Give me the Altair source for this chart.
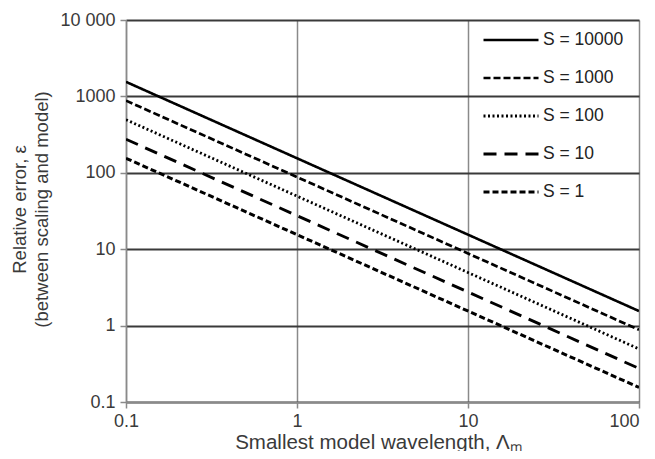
import altair as alt
import pandas as pd

# Smallest model wavelength (x) at the two ends of each straight log-log line
wavelength = [0.1, 100]

series_names = ["S = 10000", "S = 1000", "S = 100", "S = 10", "S = 1"]
err_s10000 = [1550, 1.55]
err_s1000 = [880, 0.88]
err_s100 = [495, 0.495]
err_s10 = [275, 0.275]
err_s1 = [155, 0.155]

x_ticks = [0.1, 1, 10, 100]
y_ticks = [0.1, 1, 10, 100, 1000, 10000]

rows = []
for name, vals in zip(series_names, [err_s10000, err_s1000, err_s100, err_s10, err_s1]):
    for x, y in zip(wavelength, vals):
        rows.append({"x": x, "y": y, "series": name})
df = pd.DataFrame(rows)

dashes = [[1, 0], [7, 3], [2, 2.5], [13, 8], [6, 3]]
widths = [2.6, 3, 3, 3, 3]

font = "Liberation Sans"
txt = "#3a3a3a"

chart = alt.Chart(df).mark_line(color="black", clip=True).encode(
    x=alt.X("x:Q",
            scale=alt.Scale(type="log", domain=[0.1, 100], nice=False),
            axis=alt.Axis(values=x_ticks, format="~g", grid=True,
                          gridColor="#8a8a8a", gridWidth=1.5,
                          domainColor="#8a8a8a", domainWidth=1.5,
                          tickColor="#8a8a8a", tickWidth=1.5, tickSize=6,
                          labelPadding=4, labelFontSize=18, labelColor=txt,
                          labelFont=font, labelFlush=False,
                          labelAlign=alt.condition("datum.value == 100",
                                                   alt.value("right"),
                                                   alt.value("center")),
                          title="Smallest model wavelength, Λₘ",
                          titleFont=font, titleFontSize=20.5, titleFontWeight="normal",
                          titleColor=txt, titleX=252, titleY=30,
                          titleBaseline="top")),
    y=alt.Y("y:Q",
            scale=alt.Scale(type="log", domain=[0.1, 10000], nice=False),
            axis=alt.Axis(values=y_ticks,
                          labelExpr="datum.value == 10000 ? '10 000' : format(datum.value, '~g')",
                          grid=True, gridColor="#3a3a3a", gridWidth=2,
                          domainColor="#8a8a8a", domainWidth=1.5,
                          tickColor="#8a8a8a", tickWidth=1.5, tickSize=6,
                          labelPadding=5, labelFontSize=18, labelColor=txt,
                          labelFont=font,
                          title=["Relative error, ε", "(between scaling and model)"],
                          titleFont=font, titleFontSize=18.5, titleFontWeight="normal",
                          titleColor=txt, titleAngle=-90,
                          titleX=-116, titleY=189, titleBaseline="top",
                          titleAlign="center", titleLineHeight=22)),
    strokeDash=alt.StrokeDash("series:N",
                              scale=alt.Scale(domain=series_names, range=dashes),
                              legend=alt.Legend(title=None, orient="none",
                                                legendX=356, legendY=-9,
                                                symbolType="stroke",
                                                symbolSize=3025,
                                                symbolStrokeWidth=3,
                                                symbolStrokeColor="black",
                                                rowPadding=-17.5,
                                                labelOffset=3,
                                                labelFont=font, labelFontSize=17.5,
                                                labelColor="#222")),
    strokeWidth=alt.StrokeWidth("series:N",
                                scale=alt.Scale(domain=series_names, range=widths),
                                legend=None),
    detail="series:N",
).properties(
    width=513,
    height=382,
    padding={"left": 118, "top": 12, "right": 8, "bottom": 49},
    autosize=alt.AutoSizeParams(type="none"),
).configure_view(
    stroke=None
).configure(background="white")

chart.save("out.html", embed_options={"renderer": "svg", "actions": False})
